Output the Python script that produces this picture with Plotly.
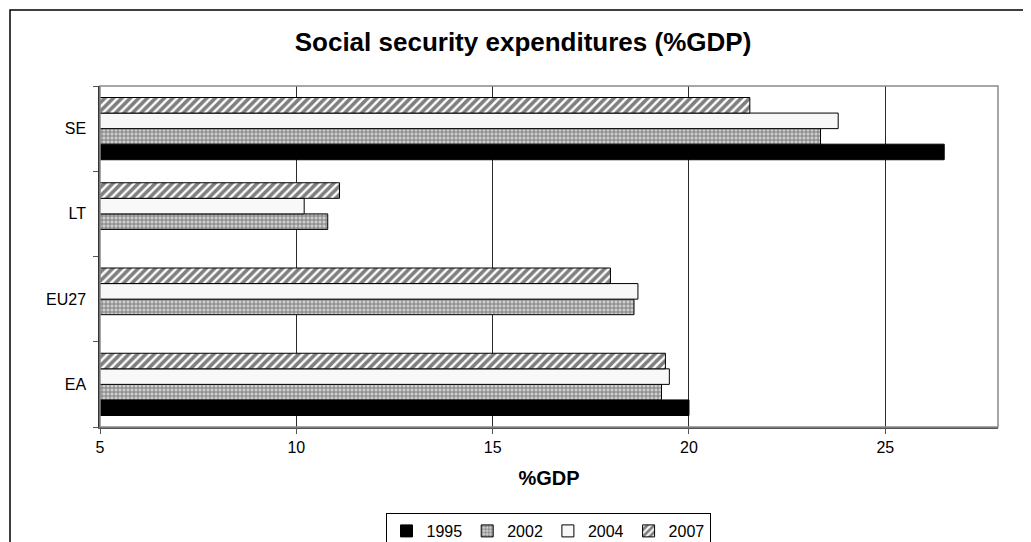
import plotly.graph_objects as go

categories = ["EA", "EU27", "LT", "SE"]
years = ["1995", "2002", "2004", "2007"]
v1995 = [20.0, None, None, 26.5]
v2002 = [19.3, 18.6, 10.8, 23.35]
v2004 = [19.5, 18.7, 10.2, 23.8]
v2007 = [19.4, 18.0, 11.1, 21.55]
x_ticks = [5, 10, 15, 20, 25]

series = [v1995, v2002, v2004, v2007]
styles = [
    dict(color="black", pattern=dict(shape="")),
    dict(color="#c8c8c8", pattern=dict(shape="+", fgcolor="#1a1a1a", bgcolor="#cfcfcf", size=4, solidity=0.4)),
    dict(color="#f8f8f8", pattern=dict(shape="")),
    dict(color="white", pattern=dict(shape="/", fgcolor="black", bgcolor="white", size=6, solidity=0.6)),
]

FONT = "Liberation Sans, Arial, sans-serif"
OFF = 8  # page body margin
W, H = 1031 - OFF, 542 - OFF
# plot area in page pixels: x 100..998, y 86..427
L, T = 100 - OFF, 86 - OFF
R = W - (998 - OFF)
B = H - (427 - OFF)
pw, ph = W - L - R, H - T - B

fig = go.Figure()
for name, vals, st in zip(years, series, styles):
    fig.add_trace(go.Bar(
        y=categories, x=vals, name=name, orientation="h",
        marker=dict(color=st["color"], pattern=st["pattern"],
                    line=dict(color="black", width=1)),
    ))

def px_x(p):
    return (p - OFF - L) / pw

def px_y(p):
    return (H - B - (p - OFF)) / ph

shapes = [
    # outer chart border
    dict(type="rect", xref="paper", yref="paper",
         x0=px_x(10), x1=px_x(1045), y0=px_y(560), y1=px_y(10),
         line=dict(color="black", width=1.5), layer="below"),
    # plot area border
    dict(type="rect", xref="paper", yref="paper", x0=0, x1=1, y0=0, y1=1,
         line=dict(color="#8a8a8a", width=1.5), layer="above"),
]

fig.update_layout(
    width=W, height=H,
    margin=dict(l=L, r=R, t=T, b=B, autoexpand=False),
    paper_bgcolor="white", plot_bgcolor="white",
    font=dict(family=FONT, color="black", size=16),
    barmode="group", bargap=0.27, bargroupgap=0,
    title=dict(text="<b>Social security expenditures (%GDP)</b>",
               x=(523 - OFF) / W, xanchor="center", y=1 - (42 - OFF) / H, yanchor="middle",
               font=dict(family=FONT, size=26, color="black")),
    xaxis=dict(range=[5, 27.87], tickvals=x_ticks, ticktext=[str(t) for t in x_ticks],
               showgrid=True, gridcolor="#2a2a2a", gridwidth=1,
               showline=True, linecolor="#555555", linewidth=1.5,
               ticks="outside", ticklen=5, tickcolor="#555555",
               tickfont=dict(size=16), zeroline=False,
               title=dict(text="<b>%GDP</b>", font=dict(size=20), standoff=16)),
    yaxis=dict(categoryorder="array", categoryarray=categories,
               showgrid=False, showline=True, linecolor="#333333", linewidth=1.5,
               ticks="outside", ticklen=5, tickcolor="#555555", tickson="boundaries",
               tickfont=dict(size=16), ticklabelstandoff=9),
    legend=dict(orientation="h", xref="container", x=(548 - OFF) / W, xanchor="center",
                yref="container", y=1 - (513 - OFF) / H, yanchor="top", traceorder="normal",
                bordercolor="black", borderwidth=1, bgcolor="white",
                font=dict(size=16), itemwidth=30, tracegroupgap=0),
    shapes=shapes,
    showlegend=True,
)

fig.write_html("out.html")
